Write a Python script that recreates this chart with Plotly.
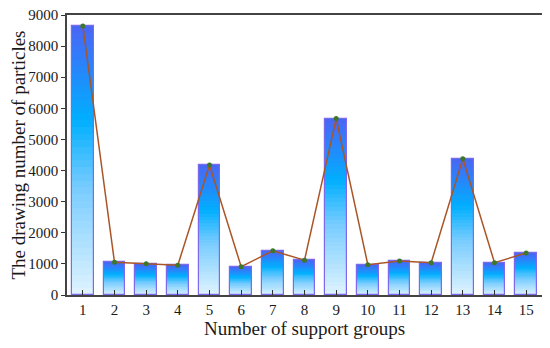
import plotly.graph_objects as go

groups = list(range(1, 16))
particles = [8650, 1050, 1005, 960, 4180, 910, 1420, 1120, 5670, 975, 1090, 1040, 4380, 1040, 1350]

N = 40
stops = [(0.0, (224, 244, 255)), (0.4, (120, 204, 255)), (0.65, (0, 175, 255)),
         (0.85, (40, 132, 250)), (1.0, (74, 102, 245))]

def grad(t):
    for (t0, c0), (t1, c1) in zip(stops[:-1], stops[1:]):
        if t0 <= t <= t1:
            f = (t - t0) / (t1 - t0)
            return "rgb(%d,%d,%d)" % tuple(round(a + (b - a) * f) for a, b in zip(c0, c1))
    return "rgb(%d,%d,%d)" % stops[-1][1]

fig = go.Figure()
for i in range(N):
    t = (i + 0.5) / N
    fig.add_trace(go.Bar(
        x=groups, y=[v / N * 1.02 for v in particles], base=[v * i / N for v in particles],
        width=0.68, marker=dict(color=grad(t), line=dict(width=0)),
        showlegend=False, hoverinfo="skip"))

fig.add_trace(go.Bar(
    x=groups, y=particles, width=0.68,
    marker=dict(color="rgba(0,0,0,0)", line=dict(color="rgb(125,105,235)", width=1.2)),
    showlegend=False))

fig.add_trace(go.Scatter(
    x=groups, y=particles, mode="lines+markers",
    line=dict(color="rgb(170,85,40)", width=1.5),
    marker=dict(color="rgb(60,120,40)", size=5),
    showlegend=False))

font = dict(family="Liberation Serif, Times New Roman, serif", color="#1a1a1a")
fig.update_layout(
    barmode="overlay", bargap=0,
    width=542, height=340,
    margin=dict(l=59, r=8, t=7, b=53, autoexpand=False),
    paper_bgcolor="white", plot_bgcolor="white",
    font=font,
)
fig.update_xaxes(
    range=[0.5, 15.5], tickmode="array", tickvals=groups, ticktext=[str(g) for g in groups],
    ticks="inside", ticklen=5, tickcolor="#333", tickfont=dict(size=15, **font),
    showline=True, linecolor="#444", linewidth=1.5, mirror=True, showgrid=False,
    automargin=False,
    title=dict(text="Number of support groups", font=dict(size=19, **font), standoff=4),
)
fig.update_yaxes(
    range=[0, 9000], tickvals=list(range(0, 9001, 1000)),
    ticks="outside", ticklen=4, tickcolor="#333", tickfont=dict(size=15, **font),
    ticklabeloverflow="allow",
    showline=True, linecolor="#444", linewidth=1.5, mirror=True, showgrid=False, zeroline=False,
    automargin=False,
    title=dict(text="The drawing number of particles", font=dict(size=19, **font), standoff=0),
)
fig.write_html("out.html")
